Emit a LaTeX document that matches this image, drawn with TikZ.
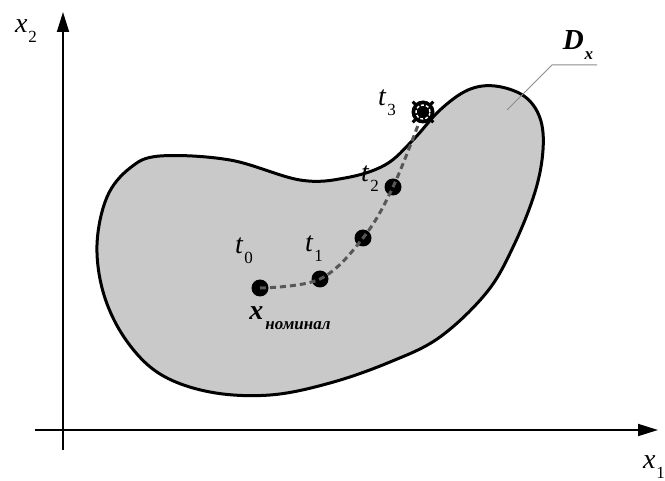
\documentclass[tikz,border=0pt]{standalone}
\usepackage{fontspec}
\setmainfont{Liberation Serif}
\usetikzlibrary{arrows.meta,calc}
\newcommand\lblsub[2]{\textit{#1}\kern1pt\raisebox{-0.35em}{\fontsize{17}{17}\selectfont #2}}
\tikzset{
  axis/.style={line width=1.8pt,-{Triangle[length=20pt,width=12pt]}},
  region/.style={line width=3pt,fill=black!21,draw=black},
  pt/.style={circle,fill=black,inner sep=0pt,minimum size=17pt},
  traj/.style={line width=3pt,draw=black!66,dash pattern=on 6pt off 4pt},
  lbl/.style={inner sep=0pt,font=\fontsize{28}{28}\selectfont},
  leader/.style={line width=1pt,draw=black!45},
}
\begin{document}
\begin{tikzpicture}[x=1pt,y=-1pt]
\useasboundingbox (0,0) rectangle (665,481);
% axes
\coordinate (o1) at (63,450);
\coordinate (ytop) at (63,12);
\coordinate (o2) at (35,430);
\coordinate (xend) at (658,430);
\draw[axis] (o1) -- (ytop);
\draw[axis] (o2) -- (xend);
\node[lbl] (lx2) at (26,31) {\lblsub{x}{2}};
\node[lbl] (lx1) at (654,467) {\lblsub{x}{1}};
% region
\draw[region] plot[smooth cycle,tension=0.6] coordinates {
 (160,156) (230,160) (300,180) (345,178) (385,165) (413,140) (440,110)
 (468,90) (495,86) (524,96) (540,118) (543,150) (535,192) (514,245)
 (487,292) (440,337) (390,362) (330,383) (270,395) (210,392) (160,374)
 (126,340) (104,295) (97,245) (107,197) (130,168)};
% leader to D_x
\coordinate (la) at (507,110);
\coordinate (lb) at (552,65);
\coordinate (lc) at (597,65);
\draw[leader] (la) -- (lb) -- (lc);
\node[lbl,font=\fontsize{29}{29}\selectfont\bfseries] (dx) at (578,45) {\lblsub{D}{\textit{x}}};
% points
\node[pt] (t0) at (260,288) {};
\node[pt] (t1) at (320,279) {};
\node[pt] (tm) at (363,238) {};
\node[pt] (t2) at (393,187) {};
\coordinate (t3) at (423,112);
\draw[traj] plot[smooth,tension=0.6] coordinates {(t0) (t1) (tm) (t2) (t3)};
% t3 marker
\node[circle,fill=black,inner sep=0pt,minimum size=23pt] (t3m) at (t3) {};
\draw[white,line width=1.4pt,dash pattern=on 3pt off 2pt] (t3) circle (7pt);
\foreach \a in {45,135,225,315}
  \draw[line width=3pt] ($(t3)+(\a:9pt)$) -- ($(t3)+(\a:14.5pt)$);
% labels
\node[lbl] (lt0) at (244,251) {\lblsub{t}{0}};
\node[lbl] (lt1) at (314,249) {\lblsub{t}{1}};
\node[lbl] (lt2) at (370,179) {\lblsub{t}{2}};
\node[lbl] (lt3) at (387,103) {\lblsub{t}{3}};
\node[lbl] (lxn) at (290,318) {\textbf{\textit{x}}\kern2pt\raisebox{-0.35em}{\fontsize{17}{17}\selectfont\bfseries\itshape номинал}};
\end{tikzpicture}
\end{document}
